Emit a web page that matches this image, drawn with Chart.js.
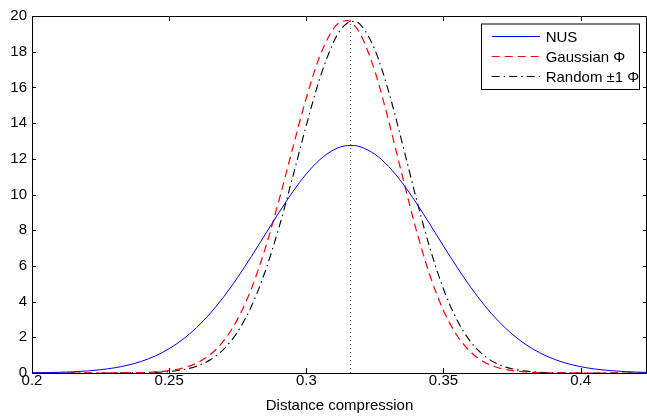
<!DOCTYPE html>
<html><head><meta charset="utf-8">
<script src="https://cdn.jsdelivr.net/npm/chart.js@4.4.0/dist/chart.umd.min.js"></script>
<style>html,body{margin:0;padding:0;background:#fff;overflow:hidden;}</style>
</head><body>
<canvas id="c" width="647" height="416"></canvas>
<script>
const xValues = [0.200,0.205,0.210,0.215,0.220,0.225,0.230,0.235,0.240,0.245,0.250,0.255,0.260,0.265,0.270,0.275,0.280,0.285,0.290,0.295,0.300,0.305,0.310,0.3125,0.315,0.3175,0.320,0.325,0.330,0.335,0.340,0.345,0.350,0.355,0.360,0.365,0.370,0.375,0.380,0.385,0.390,0.395,0.400,0.405,0.410,0.415,0.420,0.4242];
const nusValues = [0.013,0.023,0.040,0.068,0.113,0.183,0.288,0.441,0.659,0.959,1.361,1.886,2.544,3.346,4.291,5.362,6.532,7.759,8.982,10.136,11.152,11.959,12.502,12.661,12.741,12.739,12.656,12.256,11.569,10.646,9.549,8.350,7.117,5.913,4.790,3.782,2.911,2.184,1.597,1.139,0.791,0.536,0.354,0.228,0.143,0.088,0.052,0.034];
const gaussianValues = [0,0,0,0,0,0.001,0.004,0.010,0.024,0.058,0.131,0.277,0.552,1.035,1.826,3.033,4.738,6.970,9.648,12.568,15.411,17.783,19.312,19.673,19.737,19.478,18.899,16.909,14.138,11.045,8.064,5.501,3.506,2.089,1.163,0.605,0.294,0.133,0.057,0.022,0.008,0.003,0.001,0,0,0,0,0];
const randomValues = [0,0,0,0,0,0,0.002,0.006,0.015,0.037,0.085,0.186,0.382,0.741,1.351,2.317,3.742,5.687,8.135,10.951,13.874,16.542,18.563,19.222,19.605,19.694,19.468,18.110,15.775,12.866,9.826,7.027,4.705,2.950,1.732,0.952,0.490,0.236,0.107,0.045,0.018,0.006,0.002,0.001,0,0,0,0];
const markerX = [0.3162, 0.3162];
const markerY = [0, 20];
const seriesLabels = ['NUS', 'Gaussian \u03A6', 'Random \u00B11 \u03A6'];
const xTickValues = [0.2, 0.25, 0.3, 0.35, 0.4];
const xMin = 0.2, xMax = 0.4242;
const yMin = 0, yMax = 20, yStep = 2;
const xTitle = 'Distance compression';

const FONT = "'Liberation Sans', Arial, Helvetica, sans-serif";
Chart.defaults.font.family = FONT;
Chart.defaults.font.size = 15;
Chart.defaults.color = '#000';

const toPts = (xs, ys) => xs.map((x, i) => ({x: x, y: ys[i]}));

const framePlugin = {
  id: 'frame',
  afterDatasetsDraw(chart) {
    const {ctx, chartArea: {left, right, top, bottom}, scales: {x, y}} = chart;
    ctx.save();
    ctx.strokeStyle = '#000';
    ctx.lineWidth = 1;
    ctx.beginPath();
    ctx.moveTo(left, top + 0.5); ctx.lineTo(right, top + 0.5);
    ctx.moveTo(right - 0.5, top); ctx.lineTo(right - 0.5, bottom);
    xTickValues.forEach(v => {
      const px = Math.round(x.getPixelForValue(v)) + 0.5;
      ctx.moveTo(px, bottom); ctx.lineTo(px, bottom - 5);
      ctx.moveTo(px, top); ctx.lineTo(px, top + 5);
    });
    y.ticks.forEach(t => {
      const py = Math.round(y.getPixelForValue(t.value)) + 0.5;
      ctx.moveTo(left, py); ctx.lineTo(left + 4, py);
      ctx.moveTo(right, py); ctx.lineTo(right - 4, py);
    });
    ctx.stroke();
    ctx.restore();
  },
  afterDraw(chart) {
    const {ctx, chartArea: {right, top}} = chart;
    ctx.save();
    const bx1 = right - 165.5, by1 = top + 8, bx2 = right - 7.5, by2 = top + 73.5;
    ctx.fillStyle = '#fff';
    ctx.fillRect(bx1, by1, bx2 - bx1, by2 - by1);
    ctx.strokeStyle = '#000';
    ctx.lineWidth = 1;
    ctx.strokeRect(bx1, by1, bx2 - bx1, by2 - by1);
    for (let i = 0; i < 3; i++) {
      const ds = chart.data.datasets[i];
      const ly = Math.round(top + 19.7 + 20 * i) + 0.5;
      ctx.beginPath();
      ctx.strokeStyle = ds.borderColor;
      ctx.lineWidth = ds.borderWidth;
      ctx.setLineDash(ds.borderDash || []);
      ctx.moveTo(right - 155.3, ly); ctx.lineTo(right - 107, ly);
      ctx.stroke();
      ctx.setLineDash([]);
      ctx.fillStyle = '#000';
      ctx.font = '15px ' + FONT;
      ctx.textBaseline = 'alphabetic';
      ctx.textAlign = 'left';
      ctx.fillText(ds.label, right - 101.3, top + 25.7 + 20 * i);
    }
    ctx.restore();
  }
};

new Chart(document.getElementById('c'), {
  type: 'line',
  data: {
    datasets: [
      {label: seriesLabels[0], data: toPts(xValues, nusValues), borderColor: '#0000ff', borderWidth: 1, pointRadius: 0, cubicInterpolationMode: 'monotone', fill: false},
      {label: seriesLabels[1], data: toPts(xValues, gaussianValues), borderColor: '#ff0000', borderWidth: 1.2, borderDash: [8, 5], pointRadius: 0, cubicInterpolationMode: 'monotone', fill: false},
      {label: seriesLabels[2], data: toPts(xValues, randomValues), borderColor: '#000000', borderWidth: 1.1, borderDash: [8, 4, 1.5, 4], pointRadius: 0, cubicInterpolationMode: 'monotone', fill: false},
      {label: 'marker', data: toPts(markerX, markerY), borderColor: '#555555', borderWidth: 1, borderDash: [1, 3], pointRadius: 0, fill: false}
    ]
  },
  options: {
    responsive: false,
    animation: false,
    devicePixelRatio: 1,
    layout: {padding: {top: 16, left: 0, right: 0, bottom: 0}},
    plugins: {legend: {display: false}, tooltip: {enabled: false}},
    scales: {
      x: {
        type: 'linear', min: xMin, max: xMax,
        afterBuildTicks: s => { s.ticks = xTickValues.map(v => ({value: v})); },
        afterFit: s => { s.height = 43; },
        grid: {display: false, drawTicks: false},
        border: {display: true, color: '#000', width: 1},
        ticks: {padding: -1, maxRotation: 0, autoSkip: false, color: '#000', font: {size: 15},
          callback: v => String(Math.round(v * 1000) / 1000)},
        title: {display: true, text: xTitle, color: '#000', font: {size: 15}, padding: {top: 0, bottom: 1}}
      },
      y: {
        type: 'linear', min: yMin, max: yMax,
        afterFit: s => { s.width = 32; },
        grid: {display: false, drawTicks: false},
        border: {display: true, color: '#000', width: 1},
        ticks: {stepSize: yStep, padding: 5, color: '#000', font: {size: 15}}
      }
    }
  },
  plugins: [framePlugin]
});
</script>
</body></html>
